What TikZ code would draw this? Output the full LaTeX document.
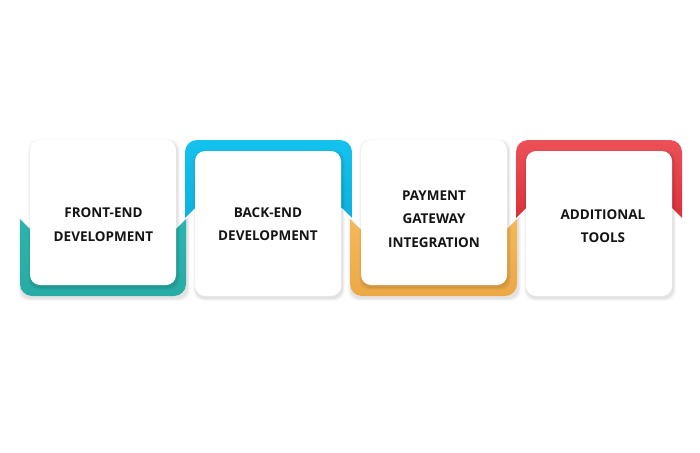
\documentclass[tikz,border=0pt]{standalone}
\usepackage{fontspec}
\setmainfont{Open Sans}
\definecolor{tealA}{HTML}{31BCB3}
\definecolor{tealB}{HTML}{27ACA5}
\definecolor{blueA}{HTML}{14C2EE}
\definecolor{blueB}{HTML}{0A9FCB}
\definecolor{orangeA}{HTML}{FCCB72}
\definecolor{orangeB}{HTML}{ECA845}
\definecolor{redA}{HTML}{EC5158}
\definecolor{redB}{HTML}{C8101B}
\definecolor{txt}{HTML}{141414}
\tikzset{
  cardbox/.style={fill=white, rounded corners=10pt},
  bandbox/.style={rounded corners=12pt},
  label/.style={font=\bfseries\fontsize{13.5}{23.5}\selectfont, text=txt, align=center, inner sep=0pt},
}
\newcommand{\softshadow}[4]{%
  \foreach \s/\o in {3/0.025,2/0.035,1/0.05}{%
    \fill[black, opacity=\o, rounded corners=10pt] (#1-\s+1,#2+2-\s) rectangle (#3+\s+1,#4+2+\s);}%
}
\begin{document}
\begin{tikzpicture}[x=1pt,y=-1pt]
\useasboundingbox[fill=white] (0,0) rectangle (700,452);

% ---------- card 1 (teal, bottom band)
\begin{scope}
  \clip (9,208) -- (30,229) -- (176,229) -- (197,208) -- (200,320) -- (9,320) -- cycle;
  \softshadow{20}{140}{186}{296}
  \shade[bandbox, top color=tealA, bottom color=tealB] (20,140) rectangle (186,296);
\end{scope}
\softshadow{30}{140}{176}{285}
\node[cardbox, minimum width=146pt, minimum height=145pt, inner sep=0pt] (c1) at (103,212.5) {};
\node[label] (t1) at (103.5,224.5) {FRONT-END\\DEVELOPMENT};

% ---------- card 2 (blue, top band)
\begin{scope}
  \clip (174,229) -- (195,208) -- (342,208) -- (363,229) -- (363,120) -- (174,120) -- cycle;
  \shade[bandbox, top color=blueA, bottom color=blueB] (185,140) rectangle (352,296);
\end{scope}
\softshadow{195}{151}{341}{296}
\node[cardbox, minimum width=146pt, minimum height=145pt, inner sep=0pt] (c2) at (268,223.5) {};
\node[label] (t2) at (268,224) {BACK-END\\DEVELOPMENT};

% ---------- card 3 (orange, bottom band)
\begin{scope}
  \clip (339,208) -- (360,229) -- (507,229) -- (528,208) -- (530,320) -- (339,320) -- cycle;
  \softshadow{350}{140}{517}{296}
  \shade[bandbox, top color=orangeA, bottom color=orangeB] (350,140) rectangle (517,296);
\end{scope}
\softshadow{361}{140}{507}{285}
\node[cardbox, minimum width=146pt, minimum height=145pt, inner sep=0pt] (c3) at (434,212.5) {};
\node[label] (t3) at (434,219) {PAYMENT\\GATEWAY\\INTEGRATION};

% ---------- card 4 (red, top band)
\begin{scope}
  \clip (505,229) -- (526,208) -- (672,208) -- (693,229) -- (693,120) -- (505,120) -- cycle;
  \shade[bandbox, top color=redA, bottom color=redB] (516,140) rectangle (682,296);
\end{scope}
\softshadow{526}{151}{672}{296}
\node[cardbox, minimum width=146pt, minimum height=145pt, inner sep=0pt] (c4) at (599,223.5) {};
\node[label] (t4) at (603,226) {ADDITIONAL\\TOOLS};
\end{tikzpicture}
\end{document}
